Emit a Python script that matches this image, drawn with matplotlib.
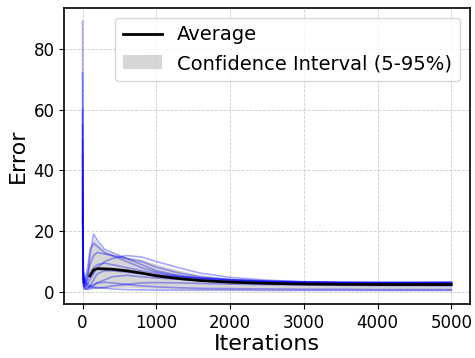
import numpy as np
import matplotlib
matplotlib.use("Agg")
import matplotlib.pyplot as plt

iterations = [0, 5, 10, 20, 40, 70, 100, 150, 200, 300, 400, 600, 800, 1000,
              1300, 1600, 2000, 2500, 3000, 3500, 4000, 4500, 5000]

run1 = [89, 30, 8, 4, 3, 5, 12, 19, 17, 14, 13, 11, 9, 7, 5.5, 4.6, 4.0, 3.5, 3.2, 3.0, 2.9, 2.8, 2.8]
run2 = [72, 20, 6, 3, 5, 8, 14, 16, 15, 13, 12, 10, 8, 6.5, 5.2, 4.4, 3.8, 3.4, 3.1, 3.0, 2.9, 2.9, 2.9]
run3 = [50, 15, 5, 2, 2, 3, 4, 6, 8, 10, 11, 12, 11.5, 10, 8, 6.2, 4.8, 3.9, 3.4, 3.2, 3.1, 3.1, 3.1]
run4 = [33, 10, 4, 6, 3, 2, 1.5, 2, 3, 4, 5, 5.5, 5, 4.6, 4.2, 3.8, 3.5, 3.2, 3.1, 3.0, 3.0, 3.0, 3.0]
run5 = [45, 12, 3, 1.5, 1, 1.2, 2, 4, 6, 7, 7, 6.5, 6, 5.5, 5, 4.6, 4.1, 3.6, 3.3, 3.2, 3.2, 3.2, 3.2]
run6 = [28, 9, 2, 1, 2, 3, 2, 1.5, 1.2, 1.5, 2, 2.5, 3, 3.1, 3.0, 2.8, 2.6, 2.4, 2.3, 2.2, 2.1, 2.1, 2.0]
run7 = [60, 14, 5, 3, 4, 6, 9, 12, 13, 12.5, 12, 11, 10, 8.2, 6.3, 5.0, 4.1, 3.6, 3.3, 3.2, 3.1, 3.1, 3.1]
run8 = [38, 11, 4, 2, 1, 0.8, 1, 1.3, 1.5, 1.3, 1.0, 0.8, 0.7, 0.6, 0.6, 0.6, 0.6, 0.5, 0.5, 0.5, 0.5, 0.5, 0.5]
run9 = [25, 8, 3, 4, 2, 1.5, 1.8, 2.5, 3, 3.2, 3, 2.5, 2, 1.7, 1.4, 1.2, 1.1, 1.0, 0.9, 0.9, 0.8, 0.8, 0.8]
run10 = [55, 13, 4, 2.5, 3, 4, 6, 8, 9, 9.5, 9, 8, 7, 6, 5.1, 4.4, 3.8, 3.4, 3.2, 3.1, 3.1, 3.1, 3.2]

runs = [run1, run2, run3, run4, run5, run6, run7, run8, run9, run10]
avg_start_iter = 100

x = np.array(iterations)
data = np.array(runs)
avg = data.mean(axis=0)
lo = np.percentile(data, 5, axis=0)
hi = np.percentile(data, 95, axis=0)
m = x >= avg_start_iter

fig = plt.figure(figsize=(4.75, 3.58), dpi=100)
ax = fig.add_axes([0.135, 0.151, 0.854, 0.827])

for r in runs:
    ax.plot(x, r, color="blue", alpha=0.35, lw=1.2)
ax.fill_between(x, lo, hi, color="grey", alpha=0.32, lw=0,
                label="Confidence Interval (5-95%)")
ax.plot(x[m], avg[m], color="black", lw=2, label="Average")

ax.grid(True, linestyle="--", linewidth=0.6, color="#cccccc")
ax.set_xlabel("Iterations", fontsize=16, labelpad=2)
ax.set_ylabel("Error", fontsize=16, labelpad=4)
ax.tick_params(labelsize=12)
ax.set_xticks([0, 1000, 2000, 3000, 4000, 5000])
ax.set_yticks([0, 20, 40, 60, 80])
for s in ax.spines.values():
    s.set_linewidth(1.2)

h, l = ax.get_legend_handles_labels()
ax.legend([h[1], h[0]], [l[1], l[0]], loc="upper right", fontsize=14,
          handlelength=2.0, borderpad=0.4)

fig.savefig("out.png", dpi=100)
